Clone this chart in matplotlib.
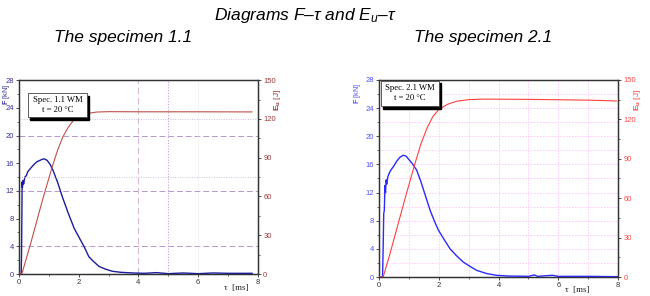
import matplotlib
matplotlib.use("Agg")
import matplotlib.pyplot as plt
from matplotlib.patches import Rectangle
from matplotlib.ticker import MultipleLocator

plt.rcParams["font.family"] = ["Liberation Sans", "DejaVu Sans"]
plt.rcParams["mathtext.fontset"] = "custom"
plt.rcParams["mathtext.rm"] = "Liberation Sans"
plt.rcParams["mathtext.it"] = "Liberation Sans:italic"
plt.rcParams["mathtext.bf"] = "Liberation Sans:bold"

# ---- data ----
# specimen 1.1
left_f_t = [0.0, 0.08, 0.09, 0.10, 0.11, 0.12, 0.14, 0.16, 0.2, 0.25, 0.3, 0.4, 0.5,
            0.6, 0.7, 0.8, 0.87, 0.95, 1.05, 1.15, 1.3, 1.45, 1.66, 1.85, 2.0, 2.2,
            2.34, 2.5, 2.68, 2.9, 3.12, 3.4, 3.8, 4.2, 4.6, 5.0, 5.5, 6.0, 6.5, 7.0, 7.8]
left_f = [0.0, 0.0, 3.0, 8.0, 13.3, 12.5, 13.5, 13.0, 14.0, 14.2, 14.8, 15.3, 15.8,
          16.2, 16.4, 16.6, 16.6, 16.4, 15.8, 14.9, 13.2, 11.2, 8.7, 6.6, 5.4, 3.8,
          2.5, 1.8, 1.1, 0.7, 0.4, 0.25, 0.15, 0.1, 0.2, 0.05, 0.15, 0.05, 0.15, 0.1, 0.1]
left_e_t = [0.0, 0.1, 0.4, 0.8, 1.13, 1.3, 1.47, 1.65, 1.83, 2.0, 2.23, 2.6, 3.0, 4.0, 6.0, 7.8]
left_e = [0.0, 0.0, 24.0, 58.0, 84.0, 96.0, 106.0, 113.5, 119.0, 122.0, 124.0, 125.3,
          125.6, 125.5, 125.5, 125.4]

# specimen 2.1
right_f_t = [0.0, 0.12, 0.14, 0.16, 0.18, 0.2, 0.22, 0.24, 0.26, 0.3, 0.35, 0.4, 0.5,
             0.6, 0.7, 0.81, 0.9, 1.0, 1.1, 1.26, 1.4, 1.55, 1.71, 1.85, 1.99, 2.2,
             2.38, 2.6, 2.83, 3.05, 3.27, 3.6, 3.93, 4.3, 5.0, 5.2, 5.3, 5.8, 6.0, 7.0, 8.0]
right_f = [0.0, 0.0, 4.0, 9.0, 9.5, 13.0, 12.0, 13.8, 13.2, 14.3, 14.8, 15.2, 15.8,
           16.5, 17.0, 17.3, 17.2, 16.7, 16.2, 15.2, 13.6, 11.6, 9.5, 8.0, 6.65, 5.2,
           4.0, 3.0, 2.1, 1.5, 0.95, 0.5, 0.25, 0.15, 0.1, 0.3, 0.1, 0.25, 0.1, 0.1, 0.05]
right_e_t = [0.0, 0.14, 0.36, 0.6, 0.9, 1.2, 1.4, 1.6, 1.8, 2.0, 2.3, 2.6, 3.0, 3.5, 5.0, 7.0, 7.95]
right_e = [0.0, 0.0, 17.0, 37.0, 62.0, 86.0, 101.0, 113.0, 122.0, 127.5, 131.5, 133.8,
           135.0, 135.4, 135.2, 134.6, 134.0]

f_ticks = [0, 4, 8, 12, 16, 20, 24, 28]
e_ticks = [0, 30, 60, 90, 120, 150]
t_ticks = [0, 2, 4, 6, 8]

fig = plt.figure(figsize=(6.5, 2.96), dpi=100)

fig.text(0.47, 0.948, r"Diagrams F–$\tau$ and E$_u$–$\tau$", ha="center", va="center",
         fontsize=12.5, style="italic")
fig.text(0.19, 0.872, "The specimen 1.1", ha="center", va="center",
         fontsize=12.5, style="italic")
fig.text(0.743, 0.872, "The specimen 2.1", ha="center", va="center",
         fontsize=12.5, style="italic")


def setup_axes(rect, fcol, ecol, box, spec_text, xlab_pos, flab_pos):
    ax = fig.add_axes(rect)
    ax2 = ax.twinx()
    ax.set_xlim(0, 8)
    ax.set_ylim(0, 28)
    ax2.set_ylim(0, 150)
    ax.set_xticks(t_ticks)
    ax.set_yticks(f_ticks)
    ax2.set_yticks(e_ticks)
    ax.xaxis.set_minor_locator(MultipleLocator(1))
    ax.yaxis.set_minor_locator(MultipleLocator(2))
    ax2.yaxis.set_minor_locator(MultipleLocator(15))
    for a in (ax, ax2):
        a.tick_params(which="major", length=2.5, width=0.6, pad=1.2, labelsize=5.5,
                      color="#333333", direction="out")
        a.tick_params(which="minor", length=1.5, width=0.5, color="#333333", direction="out")
        for s in a.spines.values():
            s.set_color("#333333")
            s.set_linewidth(0.9)
    ax.tick_params(axis="y", labelcolor=fcol)
    ax.tick_params(axis="x", labelcolor="#333333")
    ax2.tick_params(axis="y", labelcolor=ecol)
    ax.text(xlab_pos[0], xlab_pos[1], "τ  [ms]", transform=ax.transAxes, ha="center",
            va="center", fontsize=6.5, family="Liberation Serif", color="#222222")
    ax.text(flab_pos[0], flab_pos[1], r"$\mathbf{F}$ [kN]", transform=ax.transAxes,
            rotation=90, ha="center", va="center", fontsize=5.2, color=fcol)
    ax2.text(1.08, 0.9, r"$\mathbf{E_u}$ [J]", transform=ax2.transAxes, rotation=90,
             ha="center", va="center", fontsize=6, color=ecol)
    # label box with shadow
    x0, y0, w, h = box
    ax2.add_patch(Rectangle((x0 + 0.009, y0 - 0.013), w, h, transform=ax2.transAxes,
                            facecolor="black", edgecolor="black", zorder=5, clip_on=False))
    ax2.add_patch(Rectangle((x0, y0), w, h, transform=ax2.transAxes, facecolor="white",
                            edgecolor="#444444", linewidth=0.6, zorder=6, clip_on=False))
    ax2.text(x0 + w / 2, y0 + h * 0.72, spec_text, transform=ax2.transAxes, ha="center",
             va="center", fontsize=6.2, family="Liberation Serif", zorder=7)
    ax2.text(x0 + w / 2, y0 + h * 0.3, "t = 20 °C", transform=ax2.transAxes, ha="center",
             va="center", fontsize=6.2, family="Liberation Serif", zorder=7)
    return ax, ax2


# left chart
axL, axL2 = setup_axes([0.029, 0.0743, 0.368, 0.655], "#34349a", "#a03a3a",
                       (0.038, 0.809, 0.247, 0.124), "Spec. 1.1 WM",
                       (0.91, -0.072), (-0.052, 0.925))
for y in [4, 12, 20]:
    axL.axhline(y, color="#b896cc", lw=0.7, ls=(0, (6, 3)), zorder=0)
for y in [75, 120]:
    axL2.axhline(y, color="#cfc0d8", lw=0.7, ls=(0, (1, 1.5)), zorder=0)
axL.axvline(4, color="#d8bcd8", lw=0.8, ls=(0, (6, 3)), zorder=0)
axL.axvline(5, color="#d49ad4", lw=0.8, ls=(0, (1, 1.5)), zorder=0)
axL.axvline(6, color="#e6dce6", lw=0.6, ls=(0, (1, 1.5)), zorder=0)
axL.plot(left_f_t, left_f, color="#1c1ca0", lw=1.0, zorder=3)
axL2.plot(left_e_t, left_e, color="#c0504a", lw=0.8, zorder=3)

# right chart
axR, axR2 = setup_axes([0.583, 0.064, 0.368, 0.666], "#5050ff", "#ff4848",
                       (0.008, 0.868, 0.243, 0.127), "Spec. 2.1 WM",
                       (0.83, -0.066), (-0.09, 0.93))
axR.set_axisbelow(True)
axR.grid(True, which="both", axis="x", color="#ffc8ff", lw=0.6, ls=(0, (2, 1.5)))
for y in range(2, 28, 2):
    axR.axhline(y, color="#ffc8ff", lw=0.6, ls=(0, (2, 1.5)), zorder=0)
axR.plot(right_f_t, right_f, color="#2a2aff", lw=1.0, zorder=3)
axR2.plot(right_e_t, right_e, color="#ff4040", lw=0.8, zorder=3)

fig.savefig("out.png", dpi=100)
